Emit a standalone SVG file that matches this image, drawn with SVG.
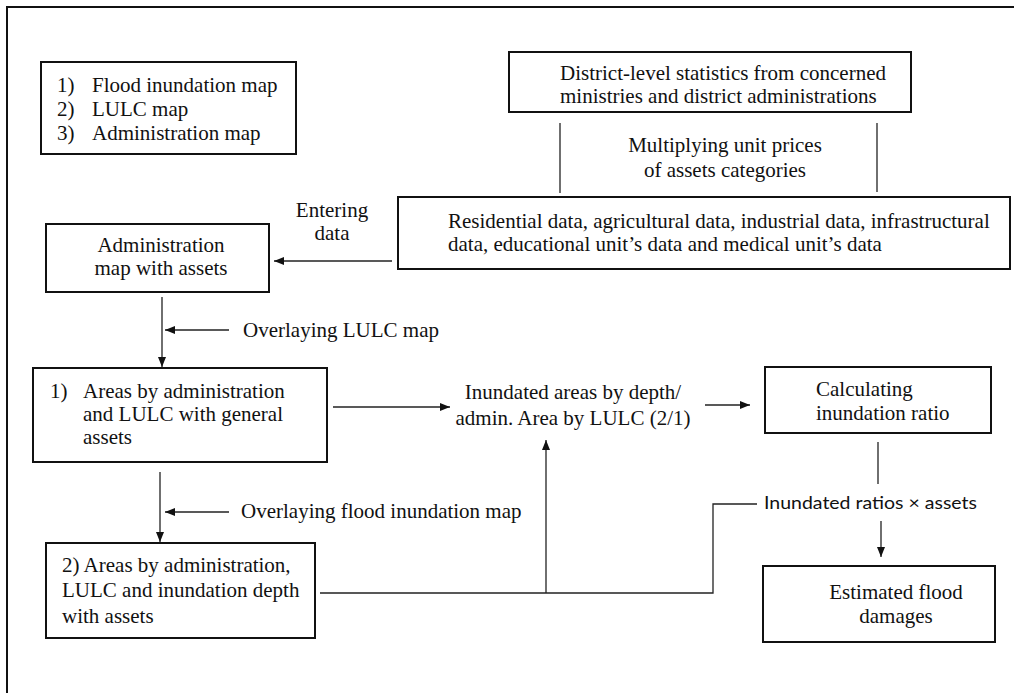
<svg xmlns="http://www.w3.org/2000/svg" width="1014" height="693" viewBox="0 0 1014 693">
<style>
  .box { fill: #fff; stroke: #111; stroke-width: 2; }
  .t { font-family: "Liberation Serif", "Times New Roman", serif; font-size: 21px; fill: #111; }
  .s { font-family: Lato, "Open Sans", sans-serif; font-size: 17.5px; fill: #111; }
  .c { fill: none; stroke: #222; stroke-width: 1.3; }
  .m { text-anchor: middle; }
</style>
<defs>
  <marker id="ah" viewBox="0 0 10 8" refX="10" refY="4" markerWidth="10" markerHeight="8" markerUnits="userSpaceOnUse" orient="auto">
    <path d="M0,0 L10,4 L0,8 z" fill="#111"/>
  </marker>
</defs>
<rect x="0" y="0" width="1014" height="693" fill="#fff"/>
<rect id="frame" x="7" y="7" width="1030" height="710" fill="none" stroke="#111" stroke-width="2"/>

<g id="connectors">
  <line class="c" x1="392" y1="261" x2="274" y2="261" marker-end="url(#ah)"/>
  <line class="c" x1="162" y1="297" x2="162" y2="367" marker-end="url(#ah)"/>
  <line class="c" x1="229" y1="330" x2="165" y2="330" marker-end="url(#ah)"/>
  <line class="c" x1="333" y1="407" x2="450" y2="407" marker-end="url(#ah)"/>
  <line class="c" x1="705" y1="405" x2="750" y2="405" marker-end="url(#ah)"/>
  <line class="c" x1="878" y1="442" x2="878" y2="484"/>
  <line class="c" x1="560" y1="123" x2="560" y2="193"/>
  <line class="c" x1="877" y1="123" x2="877" y2="192"/>
  <line class="c" x1="160" y1="472" x2="160" y2="542" marker-end="url(#ah)"/>
  <line class="c" x1="229" y1="512" x2="165" y2="512" marker-end="url(#ah)"/>
  <polyline class="c" points="320,593 713,593 713,504 757,504"/>
  <line class="c" x1="546" y1="593" x2="546" y2="440" marker-end="url(#ah)"/>
  <line class="c" x1="881" y1="521" x2="881" y2="557" marker-end="url(#ah)"/>
</g>

<g id="inputs">
  <rect class="box" x="41" y="62" width="255" height="92"/>
  <text class="t" x="57" y="92">1)</text><text class="t" x="92" y="92">Flood inundation map</text>
  <text class="t" x="57" y="116">2)</text><text class="t" x="92" y="116">LULC map</text>
  <text class="t" x="57" y="140">3)</text><text class="t" x="92" y="140">Administration map</text>
</g>

<g id="district">
  <rect class="box" x="509" y="52" width="402" height="60"/>
  <text class="t" x="560" y="80">District-level statistics from concerned</text>
  <text class="t" x="560" y="103">ministries and district administrations</text>
</g>

<g id="multiplying">
  <text class="t m" x="725" y="152">Multiplying unit prices</text>
  <text class="t m" x="725" y="177">of assets categories</text>
</g>

<g id="residential">
  <rect class="box" x="398" y="197" width="612" height="72"/>
  <text class="t" x="448" y="228">Residential data, agricultural data, industrial data, infrastructural</text>
  <text class="t" x="448" y="251">data, educational unit’s data and medical unit’s data</text>
</g>

<g id="entering">
  <text class="t m" x="332" y="217">Entering</text>
  <text class="t m" x="332" y="240">data</text>
</g>

<g id="admin-map">
  <rect class="box" x="46" y="224" width="223" height="68"/>
  <text class="t m" x="161" y="252">Administration</text>
  <text class="t m" x="161" y="275">map with assets</text>
</g>

<g id="overlay-lulc">
  <text class="t" x="243" y="337">Overlaying LULC map</text>
</g>

<g id="areas1">
  <rect class="box" x="33" y="368" width="294" height="94"/>
  <text class="t" x="50" y="398">1)</text>
  <text class="t" x="83" y="398">Areas by administration</text>
  <text class="t" x="83" y="421">and LULC with general</text>
  <text class="t" x="83" y="444">assets</text>
</g>

<g id="inundated-areas">
  <text class="t m" x="573" y="399">Inundated areas by depth/</text>
  <text class="t m" x="573" y="425">admin. Area by LULC (2/1)</text>
</g>

<g id="calculating">
  <rect class="box" x="765" y="367" width="226" height="66"/>
  <text class="t" x="816" y="396">Calculating</text>
  <text class="t" x="816" y="420">inundation ratio</text>
</g>

<g id="overlay-flood">
  <text class="t" x="241" y="518">Overlaying flood inundation map</text>
</g>

<g id="areas2">
  <rect class="box" x="46" y="543" width="269" height="95"/>
  <text class="t" x="62" y="572">2) Areas by administration,</text>
  <text class="t" x="62" y="597">LULC and inundation depth</text>
  <text class="t" x="62" y="623">with assets</text>
</g>

<g id="ratios-label">
  <text class="s" x="764" y="509" textLength="213" lengthAdjust="spacingAndGlyphs">Inundated ratios × assets</text>
</g>

<g id="estimated">
  <rect class="box" x="763" y="566" width="232" height="76"/>
  <text class="t m" x="896" y="599">Estimated flood</text>
  <text class="t m" x="896" y="623">damages</text>
</g>
</svg>
